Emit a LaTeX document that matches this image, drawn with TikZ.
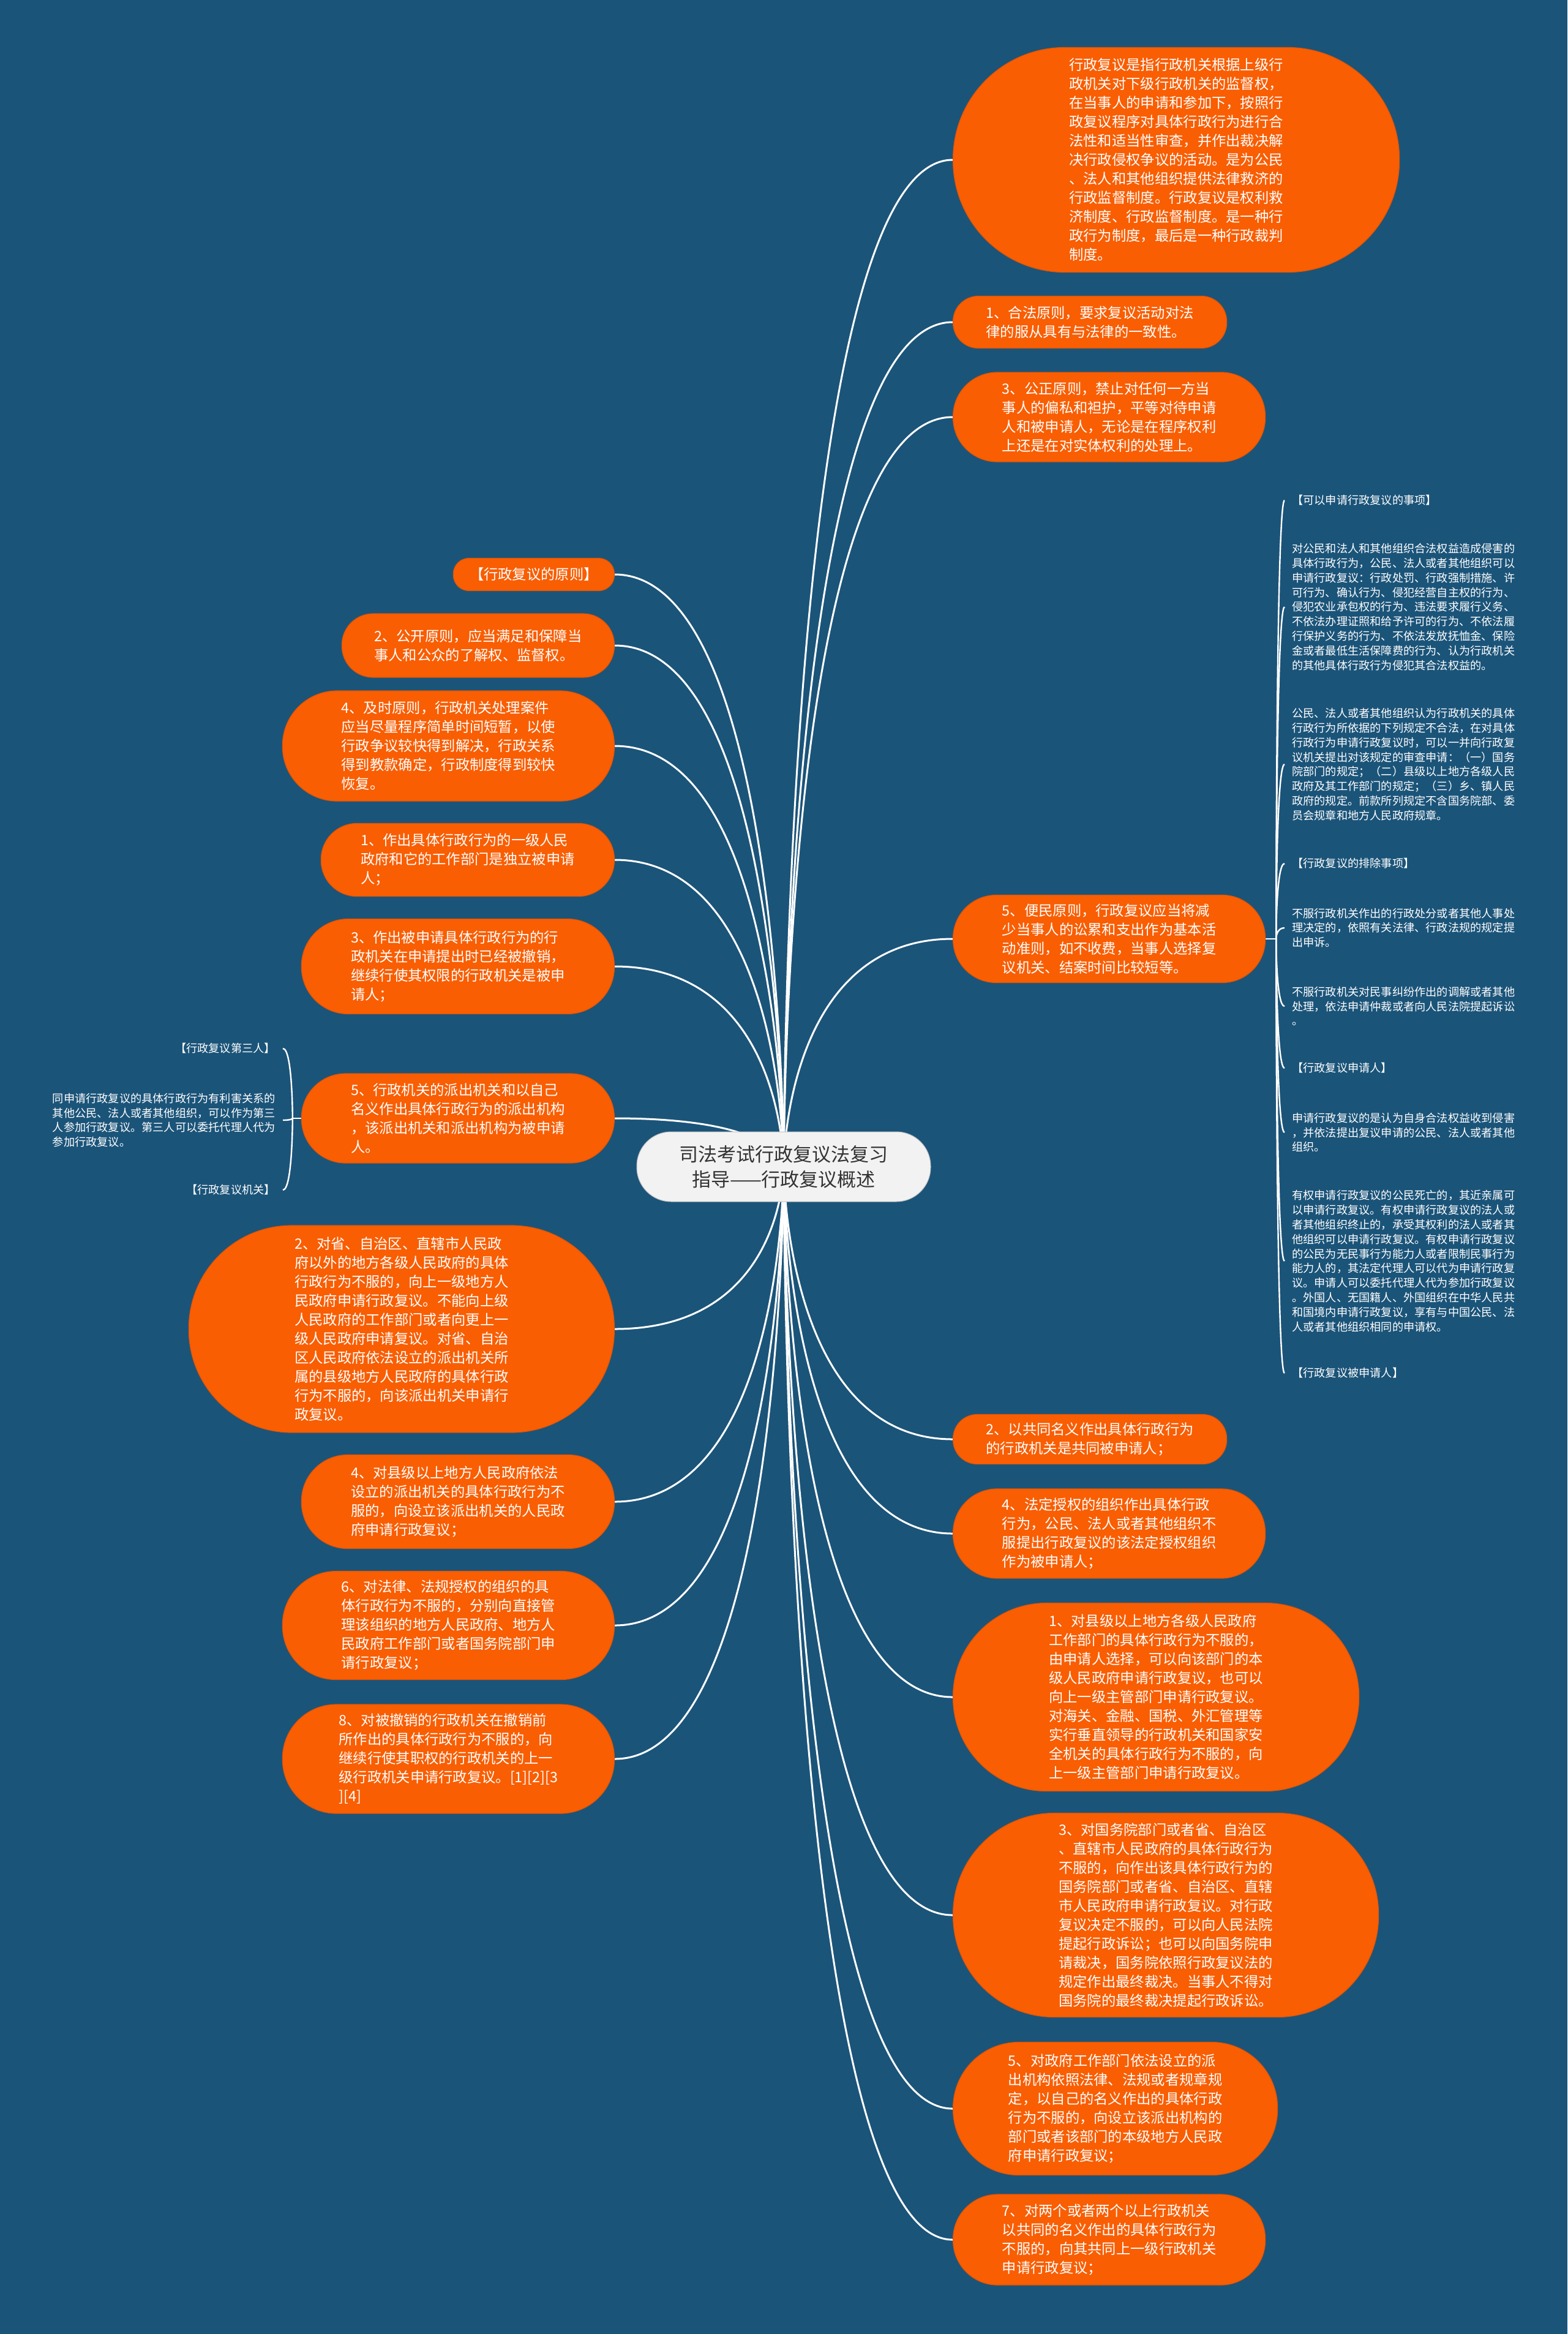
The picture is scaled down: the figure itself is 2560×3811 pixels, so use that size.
\documentclass[tikz,border=0pt]{standalone}
\usepackage{fontspec}
\setmainfont{Noto Sans CJK SC}
\usetikzlibrary{backgrounds}
\definecolor{mapbg}{HTML}{1B5479}
\definecolor{leafor}{HTML}{F95E03}
\definecolor{leafrim}{HTML}{E45400}
\definecolor{rootfill}{HTML}{F2F2F2}
\definecolor{roottxt}{HTML}{333333}

\begin{document}
\begin{tikzpicture}[
  x=1pt, y=-1pt,
  rootbox/.style={draw=gray!50,line width=1pt,fill=rootfill,text=roottxt,align=center,
    font=\fontsize{31}{41}\selectfont,minimum width=480pt,minimum height=114pt,rounded corners=56pt},
  leaf/.style 2 args={draw=leafrim,line width=1.2pt,fill=leafor,text=white,align=left,inner sep=8pt,
    font=\fontsize{23.3}{31}\selectfont,minimum width=#1pt,minimum height=#2pt,rounded corners={(#2/2-1)*1pt}},
  note/.style={text=white,align=left,inner xsep=12pt,inner ysep=2pt,font=\fontsize{18.2}{23.8}\selectfont},
  branch/.style={draw=white,line width=3pt},
  twig/.style={draw=white,line width=2.4pt}
]
  \useasboundingbox (0,0) rectangle (2560,3811);

  \node (root) [rootbox] at (1280,1905) {司法考试行政复议法复习\\指导——行政复议概述};

  \node (define) [leaf={729}{367},anchor=west] at (1556,261) {行政复议是指行政机关根据上级行\\政机关对下级行政机关的监督权，\\在当事人的申请和参加下，按照行\\政复议程序对具体行政行为进行合\\法性和适当性审查，并作出裁决解\\决行政侵权争议的活动。是为公民\\、法人和其他组织提供法律救济的\\行政监督制度。行政复议是权利救\\济制度、行政监督制度。是一种行\\政行为制度，最后是一种行政裁判\\制度。};
  \node (lawful) [leaf={447}{85},anchor=west] at (1556,526) {1、合法原则，要求复议活动对法\\律的服从具有与法律的一致性。};
  \node (fair) [leaf={510}{146},anchor=west] at (1556,681) {3、公正原则，禁止对任何一方当\\事人的偏私和袒护，平等对待申请\\人和被申请人，无论是在程序权利\\上还是在对实体权利的处理上。};
  \node (convenient) [leaf={510}{143},anchor=west] at (1556,1533) {5、便民原则，行政复议应当将减\\少当事人的讼累和支出作为基本活\\动准则，如不收费，当事人选择复\\议机关、结案时间比较短等。};
  \node (jointnm) [leaf={447}{81},anchor=west] at (1556,2350) {2、以共同名义作出具体行政行为\\的行政机关是共同被申请人；};
  \node (authorized) [leaf={510}{146},anchor=west] at (1556,2504) {4、法定授权的组织作出具体行政\\行为，公民、法人或者其他组织不\\服提出行政复议的该法定授权组织\\作为被申请人；};
  \node (county) [leaf={663}{307},anchor=west] at (1556,2771) {1、对县级以上地方各级人民政府\\工作部门的具体行政行为不服的，\\由申请人选择，可以向该部门的本\\级人民政府申请行政复议，也可以\\向上一级主管部门申请行政复议。\\对海关、金融、国税、外汇管理等\\实行垂直领导的行政机关和国家安\\全机关的具体行政行为不服的，向\\上一级主管部门申请行政复议。};
  \node (state) [leaf={695}{333},anchor=west] at (1556,3127) {3、对国务院部门或者省、自治区\\、直辖市人民政府的具体行政行为\\不服的，向作出该具体行政行为的\\国务院部门或者省、自治区、直辖\\市人民政府申请行政复议。对行政\\复议决定不服的，可以向人民法院\\提起行政诉讼；也可以向国务院申\\请裁决，国务院依照行政复议法的\\规定作出最终裁决。当事人不得对\\国务院的最终裁决提起行政诉讼。};
  \node (dispatched) [leaf={530}{217},anchor=west] at (1556,3443) {5、对政府工作部门依法设立的派\\出机构依照法律、法规或者规章规\\定，以自己的名义作出的具体行政\\行为不服的，向设立该派出机构的\\部门或者该部门的本级地方人民政\\府申请行政复议；};
  \node (twoorg) [leaf={510}{148},anchor=west] at (1556,3657) {7、对两个或者两个以上行政机关\\以共同的名义作出的具体行政行为\\不服的，向其共同上一级行政机关\\申请行政复议；};

  \node (principle) [leaf={263}{53},anchor=east] at (1004,938) {【行政复议的原则】};
  \node (open) [leaf={445}{104},anchor=east] at (1004,1054) {2、公开原则，应当满足和保障当\\事人和公众的了解权、监督权。};
  \node (timely) [leaf={542}{180},anchor=east] at (1004,1218) {4、及时原则，行政机关处理案件\\应当尽量程序简单时间短暂，以使\\行政争议较快得到解决，行政关系\\得到教款确定，行政制度得到较快\\恢复。};
  \node (onelevel) [leaf={479}{119},anchor=east] at (1004,1404) {1、作出具体行政行为的一级人民\\政府和它的工作部门是独立被申请\\人；};
  \node (revoked) [leaf={511}{155},anchor=east] at (1004,1578) {3、作出被申请具体行政行为的行\\政机关在申请提出时已经被撤销，\\继续行使其权限的行政机关是被申\\请人；};
  \node (agency) [leaf={511}{146},anchor=east] at (1004,1826) {5、行政机关的派出机关和以自己\\名义作出具体行政行为的派出机构\\，该派出机关和派出机构为被申请\\人。};
  \node (province) [leaf={695}{338},anchor=east] at (1004,2170) {2、对省、自治区、直辖市人民政\\府以外的地方各级人民政府的具体\\行政行为不服的，向上一级地方人\\民政府申请行政复议。不能向上级\\人民政府的工作部门或者向更上一\\级人民政府申请复议。对省、自治\\区人民政府依法设立的派出机关所\\属的县级地方人民政府的具体行政\\行为不服的，向该派出机关申请行\\政复议。};
  \node (countyup) [leaf={511}{153},anchor=east] at (1004,2452) {4、对县级以上地方人民政府依法\\设立的派出机关的具体行政行为不\\服的，向设立该派出机关的人民政\\府申请行政复议；};
  \node (lawauth) [leaf={542}{177},anchor=east] at (1004,2654) {6、对法律、法规授权的组织的具\\体行政行为不服的，分别向直接管\\理该组织的地方人民政府、地方人\\民政府工作部门或者国务院部门申\\请行政复议；};
  \node (abolished) [leaf={542}{178},anchor=east] at (1004,2872) {8、对被撤销的行政机关在撤销前\\所作出的具体行政行为不服的，向\\继续行使其职权的行政机关的上一\\级行政机关申请行政复议。[1][2][3\\][4]};

  \coordinate (rhub) at ([xshift=17pt]convenient.east);
  \node (canapply) [note,anchor=west] at (2098,817) {【可以申请行政复议的事项】};
  \node (apply1) [note,anchor=west] at (2098,991) {对公民和法人和其他组织合法权益造成侵害的\\具体行政行为，公民、法人或者其他组织可以\\申请行政复议：行政处罚、行政强制措施、许\\可行为、确认行为、侵犯经营自主权的行为、\\侵犯农业承包权的行为、违法要求履行义务、\\不依法办理证照和给予许可的行为、不依法履\\行保护义务的行为、不依法发放抚恤金、保险\\金或者最低生活保障费的行为、认为行政机关\\的其他具体行政行为侵犯其合法权益的。};
  \node (apply2) [note,anchor=west] at (2098,1248) {公民、法人或者其他组织认为行政机关的具体\\行政行为所依据的下列规定不合法，在对具体\\行政行为申请行政复议时，可以一并向行政复\\议机关提出对该规定的审查申请：（一）国务\\院部门的规定；（二）县级以上地方各级人民\\政府及其工作部门的规定；（三）乡、镇人民\\政府的规定。前款所列规定不含国务院部、委\\员会规章和地方人民政府规章。};
  \node (exclude) [note,anchor=west] at (2098,1410) {【行政复议的排除事项】};
  \node (excl1) [note,anchor=west] at (2098,1515) {不服行政机关作出的行政处分或者其他人事处\\理决定的，依照有关法律、行政法规的规定提\\出申诉。};
  \node (excl2) [note,anchor=west] at (2098,1643) {不服行政机关对民事纠纷作出的调解或者其他\\处理，依法申请仲裁或者向人民法院提起诉讼\\。};
  \node (applicant) [note,anchor=west] at (2098,1744) {【行政复议申请人】};
  \node (appl1) [note,anchor=west] at (2098,1849) {申请行政复议的是认为自身合法权益收到侵害\\，并依法提出复议申请的公民、法人或者其他\\组织。};
  \node (appl2) [note,anchor=west] at (2098,2059) {有权申请行政复议的公民死亡的，其近亲属可\\以申请行政复议。有权申请行政复议的法人或\\者其他组织终止的，承受其权利的法人或者其\\他组织可以申请行政复议。有权申请行政复议\\的公民为无民事行为能力人或者限制民事行为\\能力人的，其法定代理人可以代为申请行政复\\议。申请人可以委托代理人代为参加行政复议\\。外国人、无国籍人、外国组织在中华人民共\\和国境内申请行政复议，享有与中国公民、法\\人或者其他组织相同的申请权。};
  \node (respondent) [note,anchor=west] at (2098,2242) {【行政复议被申请人】};

  \coordinate (lhub) at ([xshift=-14pt]agency.west);
  \node (third) [note,anchor=east] at (462,1712) {【行政复议第三人】};
  \node (third1) [note,anchor=east] at (462,1829) {同申请行政复议的具体行政行为有利害关系的\\其他公民、法人或者其他组织，可以作为第三\\人参加行政复议。第三人可以委托代理人代为\\参加行政复议。};
  \node (organ) [note,anchor=east] at (462,1943) {【行政复议机关】};

  \begin{scope}[on background layer]
    \fill[mapbg] (0,0) rectangle (2560,3811);

    \draw[branch] (root.center) .. controls (root.center) and (root.center |- define.west) .. (define.west);
    \draw[branch] (root.center) .. controls (root.center) and (root.center |- lawful.west) .. (lawful.west);
    \draw[branch] (root.center) .. controls (root.center) and (root.center |- fair.west) .. (fair.west);
    \draw[branch] (root.center) .. controls (root.center) and (root.center |- convenient.west) .. (convenient.west);
    \draw[branch] (root.center) .. controls (root.center) and (root.center |- jointnm.west) .. (jointnm.west);
    \draw[branch] (root.center) .. controls (root.center) and (root.center |- authorized.west) .. (authorized.west);
    \draw[branch] (root.center) .. controls (root.center) and (root.center |- county.west) .. (county.west);
    \draw[branch] (root.center) .. controls (root.center) and (root.center |- state.west) .. (state.west);
    \draw[branch] (root.center) .. controls (root.center) and (root.center |- dispatched.west) .. (dispatched.west);
    \draw[branch] (root.center) .. controls (root.center) and (root.center |- twoorg.west) .. (twoorg.west);

    \draw[branch] (root.center) .. controls (root.center) and (root.center |- principle.east) .. (principle.east);
    \draw[branch] (root.center) .. controls (root.center) and (root.center |- open.east) .. (open.east);
    \draw[branch] (root.center) .. controls (root.center) and (root.center |- timely.east) .. (timely.east);
    \draw[branch] (root.center) .. controls (root.center) and (root.center |- onelevel.east) .. (onelevel.east);
    \draw[branch] (root.center) .. controls (root.center) and (root.center |- revoked.east) .. (revoked.east);
    \draw[branch] (root.center) .. controls (root.center) and (root.center |- agency.east) .. (agency.east);
    \draw[branch] (root.center) .. controls (root.center) and (root.center |- province.east) .. (province.east);
    \draw[branch] (root.center) .. controls (root.center) and (root.center |- countyup.east) .. (countyup.east);
    \draw[branch] (root.center) .. controls (root.center) and (root.center |- lawauth.east) .. (lawauth.east);
    \draw[branch] (root.center) .. controls (root.center) and (root.center |- abolished.east) .. (abolished.east);

    \draw[twig] (convenient.east) -- (rhub);
    \draw[twig] (rhub) .. controls (rhub) and (rhub |- canapply.west) .. (canapply.west);
    \draw[twig] (rhub) .. controls (rhub) and (rhub |- apply1.west) .. (apply1.west);
    \draw[twig] (rhub) .. controls (rhub) and (rhub |- apply2.west) .. (apply2.west);
    \draw[twig] (rhub) .. controls (rhub) and (rhub |- exclude.west) .. (exclude.west);
    \draw[twig] (rhub) .. controls (rhub) and (rhub |- excl1.west) .. (excl1.west);
    \draw[twig] (rhub) .. controls (rhub) and (rhub |- excl2.west) .. (excl2.west);
    \draw[twig] (rhub) .. controls (rhub) and (rhub |- applicant.west) .. (applicant.west);
    \draw[twig] (rhub) .. controls (rhub) and (rhub |- appl1.west) .. (appl1.west);
    \draw[twig] (rhub) .. controls (rhub) and (rhub |- appl2.west) .. (appl2.west);
    \draw[twig] (rhub) .. controls (rhub) and (rhub |- respondent.west) .. (respondent.west);

    \draw[twig] (agency.west) -- (lhub);
    \draw[twig] (lhub) .. controls (lhub) and (lhub |- third.east) .. (third.east);
    \draw[twig] (lhub) .. controls (lhub) and (lhub |- third1.east) .. (third1.east);
    \draw[twig] (lhub) .. controls (lhub) and (lhub |- organ.east) .. (organ.east);
  \end{scope}
\end{tikzpicture}
\end{document}
